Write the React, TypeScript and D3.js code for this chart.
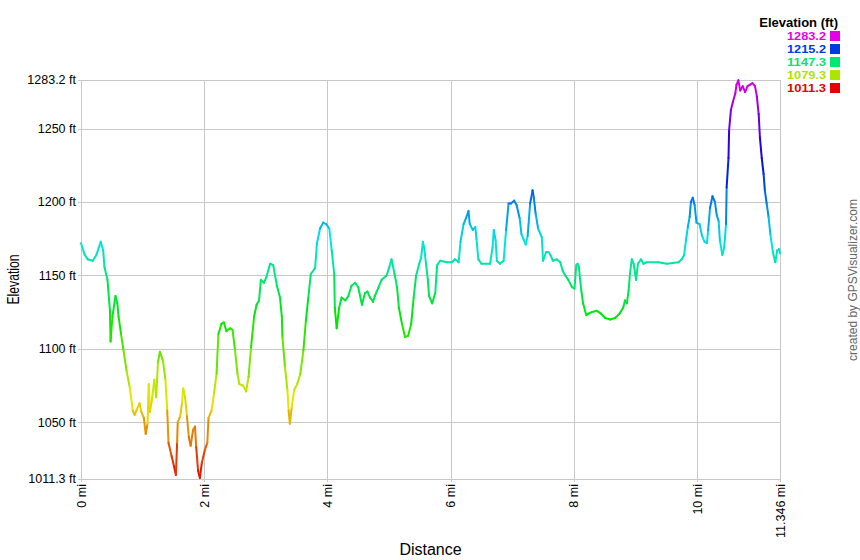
import React from "react";
import * as d3 from "d3";

const distances = [
  0.0, 0.06, 0.11, 0.19, 0.25, 0.32, 0.36, 0.38, 0.43, 0.47, 0.48, 0.51, 0.56, 0.59, 0.61, 0.65, 0.69, 0.74, 0.79, 0.84,
  0.87, 0.9, 0.95, 0.98, 1.02, 1.05, 1.08, 1.1, 1.12, 1.15, 1.19, 1.22, 1.25, 1.28, 1.33, 1.37, 1.4, 1.42, 1.47, 1.51,
  1.54, 1.56, 1.57, 1.61, 1.64, 1.66, 1.69, 1.72, 1.75, 1.78, 1.82, 1.85, 1.87, 1.9, 1.93, 1.96, 2.01, 2.05, 2.07, 2.12,
  2.16, 2.2, 2.23, 2.28, 2.32, 2.36, 2.42, 2.46, 2.5, 2.54, 2.57, 2.63, 2.68, 2.72, 2.76, 2.81, 2.85, 2.89, 2.92, 2.97,
  3.01, 3.07, 3.12, 3.18, 3.23, 3.26, 3.27, 3.31, 3.35, 3.37, 3.39, 3.42, 3.46, 3.51, 3.56, 3.61, 3.65, 3.69, 3.73, 3.8,
  3.83, 3.88, 3.93, 3.98, 4.03, 4.07, 4.11, 4.12, 4.15, 4.19, 4.23, 4.29, 4.34, 4.39, 4.45, 4.5, 4.56, 4.61, 4.65, 4.69,
  4.74, 4.77, 4.83, 4.88, 4.96, 5.0, 5.04, 5.09, 5.13, 5.16, 5.21, 5.26, 5.31, 5.36, 5.4, 5.44, 5.49, 5.52, 5.55, 5.57,
  5.6, 5.63, 5.65, 5.7, 5.75, 5.78, 5.83, 5.94, 6.02, 6.07, 6.13, 6.16, 6.21, 6.25, 6.29, 6.31, 6.36, 6.4, 6.42, 6.45,
  6.5, 6.64, 6.68, 6.7, 6.73, 6.75, 6.8, 6.86, 6.9, 6.94, 6.98, 7.03, 7.07, 7.12, 7.15, 7.19, 7.22, 7.25, 7.29, 7.33,
  7.35, 7.38, 7.42, 7.48, 7.5, 7.55, 7.59, 7.62, 7.66, 7.72, 7.78, 7.82, 7.86, 7.91, 7.97, 8.01, 8.04, 8.06, 8.08, 8.12,
  8.15, 8.2, 8.24, 8.29, 8.37, 8.44, 8.51, 8.59, 8.67, 8.74, 8.8, 8.83, 8.86, 8.89, 8.91, 8.94, 8.97, 9.01, 9.04, 9.09,
  9.13, 9.18, 9.37, 9.51, 9.7, 9.75, 9.79, 9.82, 9.85, 9.88, 9.9, 9.93, 9.96, 9.99, 10.04, 10.08, 10.12, 10.16, 10.18, 10.21,
  10.25, 10.29, 10.32, 10.35, 10.37, 10.41, 10.44, 10.47, 10.48, 10.51, 10.52, 10.55, 10.58, 10.62, 10.64, 10.67, 10.7, 10.74, 10.78, 10.82,
  10.86, 10.9, 10.94, 10.97, 11.0, 11.02, 11.05, 11.08, 11.1, 11.13, 11.16, 11.19, 11.23, 11.27, 11.3, 11.33, 11.346,
];

const elevations = [
  1172, 1164, 1161, 1160, 1164, 1173, 1167, 1156, 1147, 1126, 1105, 1122, 1136, 1131, 1122, 1110, 1099, 1085, 1074, 1058,
  1055, 1058, 1063, 1057, 1053, 1042, 1049, 1076, 1057, 1065, 1079, 1067, 1091, 1098, 1092, 1079, 1058, 1036, 1027, 1020,
  1014, 1036, 1050, 1054, 1063, 1073, 1067, 1054, 1040, 1034, 1045, 1047, 1033, 1017, 1012, 1022, 1031, 1036, 1053, 1058,
  1070, 1083, 1110, 1117, 1118, 1112, 1114, 1113, 1099, 1083, 1076, 1075, 1071, 1081, 1101, 1122, 1130, 1133, 1147, 1145,
  1149, 1158, 1157, 1143, 1135, 1122, 1108, 1088, 1072, 1058, 1049, 1060, 1072, 1076, 1083, 1099, 1119, 1135, 1151, 1155,
  1172, 1182, 1186, 1185, 1182, 1167, 1151, 1128, 1114, 1128, 1135, 1133, 1136, 1143, 1145, 1142, 1130, 1138, 1139, 1135,
  1132, 1136, 1142, 1147, 1150, 1155, 1161, 1151, 1142, 1128, 1117, 1108, 1109, 1117, 1135, 1150, 1158, 1162, 1173, 1169,
  1158, 1147, 1136, 1131, 1138, 1157, 1160, 1159, 1159, 1161, 1159, 1173, 1185, 1189, 1194, 1185, 1181, 1183, 1175, 1161,
  1158, 1158, 1169, 1181, 1174, 1160, 1158, 1160, 1181, 1199, 1199, 1201, 1198, 1189, 1178, 1174, 1171, 1177, 1199, 1208,
  1203, 1192, 1182, 1176, 1160, 1166, 1166, 1164, 1160, 1161, 1159, 1153, 1150, 1147, 1142, 1141, 1157, 1158, 1156, 1140,
  1131, 1123, 1124, 1125, 1126, 1124, 1121, 1120, 1121, 1124, 1128, 1133, 1131, 1140, 1151, 1161, 1158, 1147, 1158, 1161,
  1158, 1159, 1159, 1158, 1159, 1161, 1164, 1174, 1183, 1190, 1200, 1203, 1198, 1186, 1185, 1177, 1173, 1172, 1181, 1196,
  1204, 1200, 1191, 1187, 1174, 1164, 1169, 1185, 1210, 1230, 1249, 1263, 1268, 1274, 1280, 1283, 1276, 1279, 1275, 1279,
  1280, 1281, 1279, 1272, 1260, 1244, 1230, 1219, 1208, 1199, 1190, 1178, 1166, 1159, 1167, 1168, 1165,
];

const yTicks = [1011.3, 1050, 1100, 1150, 1200, 1250, 1283.2];
const yTickLabels = ["1011.3 ft", "1050 ft", "1100 ft", "1150 ft", "1200 ft", "1250 ft", "1283.2 ft"];
const xTicks = [0, 2, 4, 6, 8, 10, 11.346];
const xTickLabels = ["0 mi", "2 mi", "4 mi", "6 mi", "8 mi", "10 mi", "11.346 mi"];
const legendValues = [1283.2, 1215.2, 1147.3, 1079.3, 1011.3];
const legendLabels = ["1283.2", "1215.2", "1147.3", "1079.3", "1011.3"];

const W = 860;
const H = 560;
const M = { left: 81, right: 780, top: 80, bottom: 479 };
const FONT = "'Liberation Sans', Arial, sans-serif";

export default function App() {
  const x = d3.scaleLinear().domain([0, 11.346]).range([M.left, M.right]);
  const y = d3.scaleLinear().domain([1011.3, 1283.2]).range([M.bottom, M.top]);
  const hue = d3.scaleLinear().domain([1011.3, 1283.2]).range([0, 300]).clamp(true);
  const color = (v: number) => d3.hsl(hue(v), 1, 0.45).formatHex();

  const pts = distances.map((d, i) => ({ d, e: elevations[i] }));
  const segs = pts.slice(1).map((p, i) => ({ a: pts[i], b: p }));

  const grid = "#c8c8c8";

  return (
    <svg width={W} height={H} style={{ position: "absolute", left: 0, top: 0, background: "#fff" }} fontFamily={FONT}>
      <rect x={0} y={0} width={W} height={H} fill="#fff" />
      {yTicks.map((t) => (
        <line key={"hy" + t} x1={M.left - 3} x2={M.right} y1={Math.round(y(t)) + 0.5} y2={Math.round(y(t)) + 0.5} stroke={grid} strokeWidth={1} />
      ))}
      {xTicks.map((t) => (
        <line key={"vx" + t} x1={Math.round(x(t)) + 0.5} x2={Math.round(x(t)) + 0.5} y1={M.top} y2={M.bottom + 3} stroke={grid} strokeWidth={1} />
      ))}
      {yTicks.map((t, i) => (
        <text key={"yl" + t} x={76} y={y(t)} dy="0.35em" textAnchor="end" fontSize={12.5} fill="#000">
          {yTickLabels[i]}
        </text>
      ))}
      {xTicks.map((t, i) => (
        <text
          key={"xl" + t}
          transform={`translate(${x(t) + 4.5},${M.bottom + 5}) rotate(-90)`}
          textAnchor="end"
          fontSize={12.5}
          fill="#000"
        >
          {xTickLabels[i]}
        </text>
      ))}
      <g>
        {segs.map((s, i) => (
          <line
            key={"s" + i}
            x1={x(s.a.d)}
            y1={y(s.a.e)}
            x2={x(s.b.d)}
            y2={y(s.b.e)}
            stroke={color((s.a.e + s.b.e) / 2)}
            strokeWidth={2}
            strokeLinecap="round"
          />
        ))}
      </g>
      <text x={(M.left + M.right) / 2} y={555} textAnchor="middle" fontSize={16} fill="#000">
        Distance
      </text>
      <text transform={`translate(${19},${(M.top + M.bottom) / 2}) rotate(-90)`} textAnchor="middle" fontSize={17} fill="#000" textLength={50} lengthAdjust="spacingAndGlyphs">
        Elevation
      </text>
      <text transform={`translate(${857},${280}) rotate(-90)`} textAnchor="middle" fontSize={12} fill="#666">
        created by GPSVisualizer.com
      </text>
      <text x={838} y={27} textAnchor="end" fontSize={13} fontWeight="bold" fill="#000">
        Elevation (ft)
      </text>
      {legendValues.map((v, i) => {
        const cy = 36 + i * 13;
        return (
          <g key={"lg" + i}>
            <text x={826} y={cy + 4.2} textAnchor="end" fontSize={11.2} fontWeight="bold" fill={color(v)} textLength={39} lengthAdjust="spacingAndGlyphs">
              {legendLabels[i]}
            </text>
            <rect x={830} y={cy - 5} width={10} height={10} fill={color(v)} />
          </g>
        );
      })}
    </svg>
  );
}
